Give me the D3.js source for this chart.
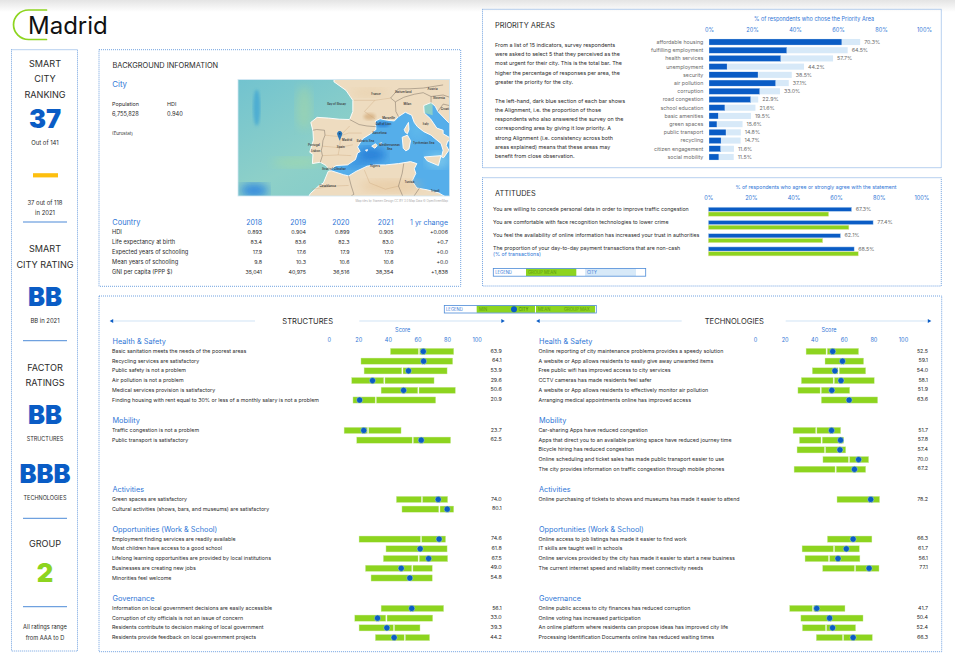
<!DOCTYPE html>
<html>
<head>
<meta charset="utf-8">
<script src="https://cdn.jsdelivr.net/npm/d3@7/dist/d3.min.js"></script>
<style>
html, body { margin: 0; padding: 0; background: #fff; }
svg { display: block; }
text { font-family: Inter, "Liberation Sans", sans-serif; }
</style>
</head>
<body>
<svg id="page" width="955" height="665"></svg>
<script>
// ---- data ----
var priorityAreas = ['affordable housing','fulfilling employment','health services','unemployment','security','air pollution','corruption','road congestion','school education','basic amenities','green spaces','public transport','recycling','citizen engagement','social mobility'];
var priorityTotal = [70.3,64.5,57.7,44.2,38.5,37.1,33.0,22.9,21.6,19.5,15.6,14.8,14.7,11.6,11.5];
var priorityAlign = [61.8,36.2,33.4,8.4,22.8,31.0,23.6,19.4,7.4,4.3,3.7,7.9,5.6,5.4,4.6];
var pctTicks = [0,20,40,60,80,100];

var attitudeLabels = ['You are willing to concede personal data in order to improve traffic congestion','You are comfortable with face recognition technologies to lower crime','You feel the availability of online information has increased your trust in authorities','The proportion of your day-to-day payment transactions that are non-cash'];
var attitudeCity = [67.3,77.4,62.1,68.5];
var attitudeGroup = [56.5,66.0,53.7,70.4];

var sectionNames = ['Health & Safety','Mobility','Activities','Opportunities (Work & School)','Governance'];
var scoreTicks = [0,20,40,60,80,100];

var structLabels = [
	['Basic sanitation meets the needs of the poorest areas','Recycling services are satisfactory','Public safety is not a problem','Air pollution is not a problem','Medical services provision is satisfactory','Finding housing with rent equal to 30% or less of a monthly salary is not a problem'],
	['Traffic congestion is not a problem','Public transport is satisfactory'],
	['Green spaces are satisfactory','Cultural activities (shows, bars, and museums) are satisfactory'],
	['Employment finding services are readily available','Most children have access to a good school','Lifelong learning opportunities are provided by local institutions','Businesses are creating new jobs','Minorities feel welcome'],
	['Information on local government decisions are easily accessible','Corruption of city officials is not an issue of concern','Residents contribute to decision making of local government','Residents provide feedback on local government projects']];
var structMin = [[41.7,21.8,23.9,15.5,35.4,16.4],[10.4,18.9],[45.7,49.5],[20.5,38.7,36.9,24.8,28.6],[35.4,17.6,20.5,31.5]];
var structMean = [[61.0,64.0,49.8,37.6,60.6,31.8],[26.6,56.8],[63.0,74.8],[62.4,61.7,60.8,56.5,54.5],[56.0,39.0,44.1,51.4]];
var structMax = [[84.5,83.8,80.0,71.2,85.6,72.3],[48.9,82.4],[80.4,84.5],[79.0,80.0,80.4,70.0,70.0],[77.7,70.3,61.7,68.2]];
var structCity = [[63.9,64.1,53.9,29.6,50.6,20.9],[23.7,62.5],[74.0,80.1],[74.6,61.8,67.5,49.0,54.8],[56.1,33.0,39.3,44.2]];

var techLabels = [
	['Online reporting of city maintenance problems provides a speedy solution','A website or App allows residents to easily give away unwanted items','Free public wifi has improved access to city services','CCTV cameras has made residents feel safer','A website or App allows residents to effectively monitor air pollution','Arranging medical appointments online has improved access'],
	['Car-sharing Apps have reduced congestion','Apps that direct you to an available parking space have reduced journey time','Bicycle hiring has reduced congestion','Online scheduling and ticket sales has made public transport easier to use','The city provides information on traffic congestion through mobile phones'],
	['Online purchasing of tickets to shows and museums has made it easier to attend'],
	['Online access to job listings has made it easier to find work','IT skills are taught well in schools','Online services provided by the city has made it easier to start a new business','The current internet speed and reliability meet connectivity needs'],
	['Online public access to city finances has reduced corruption','Online voting has increased participation','An online platform where residents can propose ideas has improved city life','Processing Identification Documents online has reduced waiting times']];
var techMin = [[34.5,47.3,38.7,31.3,29.0,44.8],[25.7,30.0,28.4,45.9,26.4],[55.4],[48.9,31.8,33.8,45.7],[23.4,31.0,32.0,41.4]];
var techMean = [[48.4,59.0,56.5,53.2,44.4,63.5],[41.4,45.0,47.3,63.5,54.5],[78.0],[66.4,53.4,50.0,67.6],[39.2,50.2,48.0,59.5]];
var techMax = [[70.0,73.4,74.8,80.6,64.0,82.9],[57.9,59.9,61.3,76.8,74.8],[84.2],[79.0,70.5,70.9,83.8],[60.8,73.0,68.0,79.3]];
var techCity = [[52.5,59.1,54.0,58.1,51.9,63.6],[51.7,57.8,57.4,70.0,67.2],[78.2],[66.3,61.7,56.1,77.1],[41.7,50.4,52.4,66.3]];

var tableYears = ['2018','2019','2020','2021','1 yr change'];
var tableRows = ['HDI','Life expectancy at birth','Expected years of schooling','Mean years of schooling','GNI per capita (PPP $)'];
var tableValues = [
	['0.893','0.904','0.899','0.905','+0.006'],
	['83.4','83.6','82.3','83.0','+0.7'],
	['17.9','17.6','17.9','17.9','+0.0'],
	['9.8','10.3','10.6','10.6','+0.0'],
	['35,041','40,975','36,516','38,354','+1,838']];

var priorityText = ['From a list of 15 indicators, survey respondents','were asked to select 5 that they perceived as the','most urgent for their city. This is the total bar. The','higher the percentage of responses per area, the','greater the priority for the city.'];
var alignmentText = ['The left-hand, dark blue section of each bar shows','the Alignment, i.e. the proportion of those','respondents who also answered the survey on the','corresponding area by giving it low priority. A','strong Alignment (i.e. consistency across both','areas explained) means that these areas may','benefit from close observation.'];

// coastlines as lon/lat, projected below
var europeCoast = [[-4.8,48.4],[-2.5,47.3],[-1.2,46],[-1.2,44.5],[-1.8,43.4],[-3.8,43.45],[-5.8,43.6],[-8,43.7],[-9.2,43],[-8.8,41.8],[-8.7,40.5],[-9.4,38.7],[-8.8,38.4],[-8.9,37],[-7.4,37.2],[-6.3,36.7],[-5.6,36],[-4.4,36.7],[-2.2,36.8],[-0.7,37.6],[-0.3,38.6],[0.2,38.8],[-0.3,39.5],[0.7,40.7],[2.2,41.4],[3.2,42],[3.1,43.2],[4,43.5],[5.4,43.3],[6.7,43.2],[7.5,43.8],[8.8,44.4],[10,44],[10.5,43],[11.1,42.4],[12.3,41.7],[13.7,41.2],[14.3,40.8],[15.6,40],[16,39],[15.7,38],[16.1,37.9],[17.1,39],[16.6,39.7],[16.9,40.4],[18.4,40],[18.5,40.3],[16,41.4],[16,41.9],[14.8,42.2],[13.6,43.5],[12.4,44.3],[12.3,45.3],[13.7,45.7],[14.5,45.2],[15,44.5],[17,43],[19,42],[21,40],[21,50],[-1.5,50],[-1.5,49.5],[-4.8,48.6]];
var africaCoast = [[-5.9,35.8],[-6.8,34],[-7.6,33.6],[-9.3,32.3],[-9.8,31.5],[-10,29],[21,29],[21,30.5],[19,30.5],[15.2,32.4],[13,32.9],[11,33.2],[10.1,34.3],[10.8,35.5],[10.5,36.2],[11,37],[9.8,37.3],[7.5,37],[5,36.8],[3,36.8],[1.5,36.6],[-0.6,35.8],[-2,35.1],[-3,35.3],[-5.3,35.9]];
var islands = [
	[[2.4,39.6],[3.1,39.95],[3.45,39.7],[3,39.3]],
	[[3.85,40],[4.3,40.1],[4.2,39.85]],
	[[1.2,39],[1.6,39.1],[1.5,38.85]],
	[[8.6,42],[9.4,43],[9.5,42],[9.2,41.4],[8.8,41.6]],
	[[8.2,40.9],[9.2,41.2],[9.8,40.4],[9.5,39.2],[8.9,38.9],[8.4,39.3]],
	[[12.4,38],[15.6,38.2],[15.1,36.7],[13,37.4]]];
var borders = [
	[[-8.8,41.9],[-8.1,42],[-6.6,41.9],[-6.5,41.2],[-6.9,40.4],[-7,39.6],[-7.2,39],[-7,38.2],[-7.4,37.2]],
	[[-1.8,43.4],[0,42.7],[1.5,42.5],[3.2,42.4]],
	[[7.5,43.8],[7,44.5],[6.9,45.8],[6,46.3],[7.5,47.5]],
	[[6.9,45.8],[8.5,46.4],[10.5,46.8],[12.2,47],[13.7,46.5],[13.7,45.7]],
	[[7.5,47.5],[9.5,47.5],[12.2,47.6],[16,48]],
	[[13.7,46.5],[16,46.7],[19,46]],
	[[15,44.5],[16,45.5],[19,45]],
	[[-2,35.1],[-1.5,33.5],[-1,32.2],[-3,31],[-6,29]],
	[[8.5,37],[8.2,35.5],[7.5,33.5],[9,30.5],[10,29]],
	[[11.5,33.2],[10.3,31.7],[10,30]]];
var provinceLines = [
	[[-6.5,41.2],[-4,41],[-2,41.5],[0.5,41.5]],
	[[-7,39.6],[-4,39.4],[-1.2,39.8]],
	[[-7,38.2],[-4,38.3],[-1.5,38.2]],
	[[-1.8,42.5],[-3.5,41.2],[-3.7,39.5],[-4,38.3]],
	[[-9,33],[-5,33.5],[-2,33.6]],
	[[1,36],[2,34],[5,33],[7.5,33.5]],
	[[3,46],[1,44.5],[3,43.5]],
	[[-1,46],[3,46],[6,46.3]]];
var mapPlaces = [['France',3.2,46.7],['Switzerland',8.4,46.9],['Austria',14,47.3],['Slovenia',15.2,46.2],['Milan',9.2,45.4],['Italy',12.7,42.7],['Croatia',16.5,44.7],['Portugal',-8.6,39.6],['Spain',-3.5,39.4],['Madrid',-2.3,40.4],['Marseille',5.6,43.5],['Barcelona',3.9,41.4],['Algiers',3,36.5],['Tunisia',9.6,34],['Casablanca',-6,33.4],['Tripoli',14.5,32.5],['Lisbon',-8.3,38.7],['Strait of Gibraltar',-4.8,36],['Balearic Sea',1.2,40.2],['Mediterranean',5.8,39.6],['Sea',5.8,39],['Tyrrhenian Sea',12.3,39.9],['Gulf of Lion',4.6,42.7],['Bay of Biscay',-4.3,45.4]];

// ---- colours ----
var BLUE = '#0a5cc5', GREEN = '#8dd41f', PALE = '#d7e9f8', HEAD = '#2f76d6', RULE = '#4c8ad8', INK = '#2b2b2b', GREY = '#6b6b6b';

var svg = d3.select('#page');

function label(g, x, y, str, size, fill, anchor, weight) {
	return g.append('text')
		.attr('x', x)
		.attr('y', y)
		.attr('dy', '.36em')
		.attr('font-size', size)
		.attr('fill', fill || INK)
		.attr('text-anchor', anchor || 'start')
		.attr('font-weight', weight || 400)
		.text(str);
}

function panel(x0, y0, x1, y1) {
	svg.append('rect')
		.attr('x', x0)
		.attr('y', y0)
		.attr('width', x1 - x0)
		.attr('height', y1 - y0)
		.attr('fill', 'none')
		.attr('stroke', RULE)
		.attr('stroke-width', 0.8)
		.attr('stroke-dasharray', '1,1');
}

function tickRow(scale, ticks, y, fmt) {
	var axis = d3.axisTop(scale)
		.tickValues(ticks)
		.tickSize(0)
		.tickPadding(0)
		.tickFormat(fmt);
	var g = svg.append('g')
		.attr('transform', 'translate(0,' + (y + 2) + ')')
		.call(axis);
	g.select('.domain').remove();
	g.selectAll('text')
		.attr('font-size', 5.6)
		.attr('font-family', 'Inter')
		.attr('fill', HEAD);
}

function drawHeader() {
	var defs = svg.append('defs');
	var grad = defs.append('linearGradient')
		.attr('id', 'topShade')
		.attr('x1', 0).attr('x2', 0).attr('y1', 0).attr('y2', 1);
	grad.append('stop').attr('offset', 0).attr('stop-color', '#e4e4e4');
	grad.append('stop').attr('offset', 1).attr('stop-color', '#ffffff');
	svg.append('rect')
		.attr('width', 955)
		.attr('height', 12)
		.attr('fill', 'url(#topShade)');

	var arc = d3.path();
	arc.moveTo(46.5, 10);
	arc.lineTo(30, 10);
	arc.arcTo(13.5, 10, 13.5, 25, 15);
	arc.arcTo(13.5, 39.5, 30, 39.5, 15);
	arc.lineTo(46.5, 39.5);
	svg.append('path')
		.attr('d', arc.toString())
		.attr('fill', 'none')
		.attr('stroke', GREEN)
		.attr('stroke-width', 1.7)
		.attr('stroke-linecap', 'round');
	label(svg, 28, 25, 'Madrid', 24, '#111');
}

function drawSidebar() {
	panel(11.5, 49.7, 77.5, 651);
	var g = svg.append('g');
	var cx = 45;
	function head(y, str) { label(g, cx, y, str, 9.1, INK, 'middle'); }
	function small(y, str, size) { label(g, cx, y, str, size || 5.9, INK, 'middle'); }
	function big(y, str, fill, size) {
		label(g, cx, y, str, size || 25.5, fill || BLUE, 'middle', 900);
	}
	function rule(y) {
		g.append('rect').attr('x', 23).attr('y', y - 0.5).attr('width', 44).attr('height', 1).attr('fill', RULE);
	}
	head(63.3, 'SMART');
	head(79, 'CITY');
	head(94.7, 'RANKING');
	big(118.7, '37');
	small(143, 'Out of 141');
	g.append('rect').attr('x', 33).attr('y', 173.2).attr('width', 25).attr('height', 4.2).attr('fill', '#fdbf0f');
	small(202.7, '37 out of 118');
	small(212.5, 'in 2021');
	rule(222);
	head(249, 'SMART');
	head(264.5, 'CITY RATING');
	big(296.7, 'BB');
	small(321, 'BB in 2021');
	rule(340.7);
	head(368, 'FACTOR');
	head(383, 'RATINGS');
	big(415, 'BB');
	small(439.3, 'STRUCTURES', 5.5);
	big(474, 'BBB');
	small(498.3, 'TECHNOLOGIES', 5.5);
	rule(518.3);
	head(543.3, 'GROUP');
	big(573.3, '2', GREEN);
	rule(606.7);
	small(626.7, 'All ratings range', 5.7);
	small(637.7, 'from AAA to D', 5.7);
}

function drawMap() {
	var x0 = 238, y0 = 79.5, w = 211.5, h = 116.5;
	var proj = d3.geoMercator()
		.scale(300.8)
		.center([-3.7, 40.4])
		.translate([339.7, 140.7]);
	var defs = svg.append('defs');
	defs.append('clipPath').attr('id', 'mapClip')
		.append('rect').attr('x', x0).attr('y', y0).attr('width', w).attr('height', h);
	defs.append('filter').attr('id', 'wash')
		.append('feGaussianBlur').attr('stdDeviation', 5);
	defs.append('filter').attr('id', 'washFine')
		.append('feGaussianBlur').attr('stdDeviation', 1.5);
	var sea = defs.append('linearGradient').attr('id', 'seaFill')
		.attr('x1', 0).attr('x2', 1).attr('y1', 0).attr('y2', 1);
	sea.append('stop').attr('offset', 0).attr('stop-color', '#72c3cf');
	sea.append('stop').attr('offset', 0.5).attr('stop-color', '#8ed0c8');
	sea.append('stop').attr('offset', 1).attr('stop-color', '#7cc8cc');

	var g = svg.append('g').attr('clip-path', 'url(#mapClip)');
	g.append('rect').attr('x', x0).attr('y', y0).attr('width', w).attr('height', h).attr('fill', 'url(#seaFill)');

	function blob(lon, lat, rx, ry, fill, op, filt) {
		var p = proj([lon, lat]);
		g.append('ellipse')
			.attr('cx', p[0]).attr('cy', p[1])
			.attr('rx', rx).attr('ry', ry)
			.attr('fill', fill)
			.attr('opacity', op)
			.attr('filter', 'url(#' + (filt || 'wash') + ')');
	}
	// atlantic washes
	blob(-19.5, 45, 3.5, 18, '#3aa3d4', 0.7, 'washFine');
	blob(-10.5, 45, 8, 22, '#a9d8a0', 0.5);
	blob(-12, 37.2, 24, 5, '#a6dba3', 0.55);
	blob(-20, 32.8, 14, 7, '#2f86e0', 0.95);
	// mediterranean basin, sits under the land
	var medPts = [[-5.5,36],[-2,38],[1,42],[4,44.5],[9,45],[14,44],[14,46],[19,46],[19,30],[-2,34],[-5.5,35.7]];
	var poly = d3.line().x(function(d) { return proj(d)[0]; }).y(function(d) { return proj(d)[1]; }).curve(d3.curveLinearClosed);
	g.append('path').attr('d', poly(medPts)).attr('fill', '#55aeea');
	blob(2.3, 38.3, 15, 8, '#2379d6', 0.85);
	blob(-0.5, 37, 13, 5, '#3289dd', 0.7);
	blob(4.5, 42.7, 7, 2.5, '#2379d6', 0.8, 'washFine');
	blob(11, 42, 8, 10, '#63bdec', 0.7);
	blob(15, 37.5, 12, 8, '#7fcaec', 0.85);

	var land = g.append('g');
	[europeCoast, africaCoast].concat(islands).forEach(function(ring) {
		land.append('path')
			.attr('d', poly(ring))
			.attr('fill', '#eedcc0')
			.attr('stroke', '#ffffff')
			.attr('stroke-width', 0.9)
			.attr('stroke-linejoin', 'round');
	});
	// a little pigment on land
	blob(2, 43.8, 6, 3.5, '#cfa36e', 0.6, 'washFine');
	blob(6, 33.5, 30, 6, '#e3bd8c', 0.45);
	blob(2, 47, 18, 4, '#e4c79d', 0.45);

	var open = d3.line().x(function(d) { return proj(d)[0]; }).y(function(d) { return proj(d)[1]; });
	provinceLines.forEach(function(line) {
		g.append('path').attr('d', open(line)).attr('fill', 'none').attr('stroke', '#c9a277').attr('stroke-width', 0.35);
	});
	borders.forEach(function(line) {
		g.append('path').attr('d', open(line)).attr('fill', 'none').attr('stroke', '#6d6257').attr('stroke-width', 0.45);
	});
	mapPlaces.forEach(function(d) {
		var p = proj([d[1], d[2]]);
		g.append('text')
			.attr('x', p[0]).attr('y', p[1])
			.attr('font-size', 2.9)
			.attr('font-weight', 600)
			.attr('text-anchor', 'middle')
			.attr('fill', '#3a3a3a')
			.text(d[0]);
	});
	// pin on the city
	var tip = proj([-3.7, 40.4]);
	var pin = d3.path();
	pin.moveTo(tip[0], tip[1]);
	pin.lineTo(tip[0] - 2.4, tip[1] - 6);
	pin.arc(tip[0], tip[1] - 7, 2.6, Math.PI * 0.9, Math.PI * 0.1);
	pin.closePath();
	g.append('path').attr('d', pin.toString()).attr('fill', '#2a76b8');
	g.append('circle').attr('cx', tip[0]).attr('cy', tip[1] - 7).attr('r', 0.8).attr('fill', '#123f6b');

	svg.append('rect').attr('x', x0).attr('y', y0).attr('width', w).attr('height', h)
		.attr('fill', 'none').attr('stroke', '#cfe5f3').attr('stroke-width', 0.8);
	label(svg, 448, 200.5, 'Map tiles by Stamen Design CC BY 3.0 Map Data \u00a9 OpenStreetMap', 2.9, '#aaaaaa', 'end');
}

function drawBackground() {
	panel(99, 49.7, 460.7, 286.3);
	var g = svg.append('g');
	label(g, 112.5, 65, 'BACKGROUND INFORMATION', 7.4, INK);
	label(g, 112.3, 84.3, 'City', 7.8, HEAD);
	label(g, 112, 104, 'Population', 5.4, INK);
	label(g, 167, 104, 'HDI', 5.4, INK);
	label(g, 112, 113.5, '6,755,828', 5.7, INK);
	label(g, 167, 113.5, '0.940', 5.7, INK);
	label(g, 112, 133.7, '(Eurostat)', 4.5, INK);

	var colRight = [262, 306, 349.5, 393.5, 448];
	label(g, 112.3, 222.5, 'Country', 7.4, HEAD);
	tableYears.forEach(function(y, i) {
		label(g, colRight[i], 222.3, y, 7, HEAD, 'end');
	});
	var rowY = d3.scalePoint().domain(tableRows).range([232.3, 272]);
	tableRows.forEach(function(name, r) {
		label(g, 112, rowY(name), name, 5.7, INK);
		tableValues[r].forEach(function(v, c) {
			label(g, colRight[c], rowY(name), v, 5.3, INK, 'end');
		});
	});
}

function drawPriority() {
	panel(482.5, 9.3, 941.3, 167.7);
	label(svg, 495, 25, 'PRIORITY AREAS', 7.4, INK);
	priorityText.forEach(function(line, i) {
		label(svg, 495, 44.7 + i * 9.4, line, 5.4, INK);
	});
	alignmentText.forEach(function(line, i) {
		label(svg, 495, 100.7 + i * 9.27, line, 5.4, INK);
	});

	var x = d3.scaleLinear().domain([0, 100]).range([709, 924]);
	var y = d3.scaleBand().domain(priorityAreas).range([37.9, 161.1]).paddingInner(0.26).paddingOuter(0.13);
	label(svg, 814, 19.3, '% of respondents who chose the Priority Area', 5.5, HEAD, 'middle');
	tickRow(x, pctTicks, 30.3, function(d) { return d + '%'; });

	var g = svg.append('g');
	g.selectAll('.total').data(priorityAreas).join('rect')
		.attr('class', 'total')
		.attr('x', x(0))
		.attr('y', function(d) { return y(d); })
		.attr('width', function(d, i) { return x(priorityTotal[i]) - x(0); })
		.attr('height', y.bandwidth())
		.attr('fill', PALE);
	g.selectAll('.align').data(priorityAreas).join('rect')
		.attr('class', 'align')
		.attr('x', x(0))
		.attr('y', function(d) { return y(d); })
		.attr('width', function(d, i) { return x(priorityAlign[i]) - x(0); })
		.attr('height', y.bandwidth())
		.attr('fill', BLUE)
		.attr('stroke', '#ffffff')
		.attr('stroke-width', 0.3);
	priorityAreas.forEach(function(d, i) {
		var cy = y(d) + y.bandwidth() / 2;
		label(g, 703.3, cy, d, 5.3, GREY, 'end');
		label(g, x(priorityTotal[i]) + 4, cy, priorityTotal[i].toFixed(1) + '%', 5.3, GREY);
	});
}

function drawAttitudes() {
	panel(482.5, 177.7, 941.3, 286);
	label(svg, 495, 193, 'ATTITUDES', 7.4, INK);
	var x = d3.scaleLinear().domain([0, 100]).range([708.3, 921.3]);
	label(svg, 816, 187, '% of respondents who agree or strongly agree with the statement', 5.2, HEAD, 'middle');
	tickRow(x, pctTicks, 197.7, function(d) { return d + '%'; });

	var rowY = d3.scalePoint().domain(attitudeLabels).range([209.3, 249]);
	var g = svg.append('g');
	g.selectAll('.city').data(attitudeLabels).join('rect')
		.attr('class', 'city')
		.attr('x', x(0))
		.attr('y', function(d) { return rowY(d) - 2.1; })
		.attr('width', function(d, i) { return x(attitudeCity[i]) - x(0); })
		.attr('height', 4.2)
		.attr('fill', BLUE)
		.attr('stroke', '#c9ddf2')
		.attr('stroke-width', 0.5);
	g.selectAll('.mean').data(attitudeLabels).join('rect')
		.attr('class', 'mean')
		.attr('x', x(0))
		.attr('y', function(d) { return rowY(d) + 2.7; })
		.attr('width', function(d, i) { return x(attitudeGroup[i]) - x(0); })
		.attr('height', 4.2)
		.attr('fill', GREEN)
		.attr('stroke', '#e9dfa8')
		.attr('stroke-width', 0.5);
	attitudeLabels.forEach(function(d, i) {
		label(g, 493, rowY(d) - (i == 3 ? 1.3 : 0.3), d, 5.3, INK);
		label(g, x(attitudeCity[i]) + 4, rowY(d) - 0.3, attitudeCity[i].toFixed(1) + '%', 5.3, GREY);
	});
	label(g, 493, 254, '(% of transactions)', 5.3, HEAD);

	// legend strip
	var leg = svg.append('g');
	leg.append('rect').attr('x', 526).attr('y', 268.6).attr('width', 50.3).attr('height', 7.4).attr('fill', GREEN);
	leg.append('rect').attr('x', 585).attr('y', 268.6).attr('width', 51).attr('height', 7.4).attr('fill', PALE);
	leg.append('rect').attr('x', 493.3).attr('y', 268.4).attr('width', 152.4).attr('height', 7.8)
		.attr('fill', 'none').attr('stroke', RULE).attr('stroke-width', 0.8);
	label(leg, 495.2, 272.3, 'LEGEND', 4.2, HEAD);
	label(leg, 528, 272.3, 'GROUP MEAN', 4.2, '#5c9a10');
	label(leg, 587, 272.3, 'CITY', 4.2, HEAD);
}

function factorColumn(title, cfg, labels, mins, means, maxes, cities) {
	var sectionY = [341.3, 420.3, 489.3, 529, 598.3];
	var rowStep = 9.72;
	var x = d3.scaleLinear().domain([0, 100]).range(cfg.range);

	label(svg, cfg.titleX, 321, title, 7.6, INK, 'middle');
	cfg.rules.forEach(function(r) {
		svg.append('line')
			.attr('x1', r[0]).attr('x2', r[1]).attr('y1', 321).attr('y2', 321)
			.attr('stroke', '#bcd7f1').attr('stroke-width', 0.7);
		svg.append('path')
			.attr('d', d3.symbol().type(d3.symbolTriangle).size(7)())
			.attr('transform', 'translate(' + r[2] + ',321) rotate(' + r[3] + ')')
			.attr('fill', BLUE);
	});
	label(svg, (cfg.range[0] + cfg.range[1]) / 2, 330.3, 'Score', 5.5, HEAD, 'middle');
	tickRow(x, scoreTicks, 340, function(d) { return d; });

	var g = svg.append('g');
	sectionNames.forEach(function(name, s) {
		label(g, cfg.labelX + 0.5, sectionY[s], name, 7.3, HEAD);
		labels[s].forEach(function(text, i) {
			var y = sectionY[s] + rowStep * (i + 1);
			label(g, cfg.labelX, y, text, 5.3, INK);
			g.append('rect')
				.attr('x', x(mins[s][i]))
				.attr('y', y - 2.7)
				.attr('width', x(means[s][i]) - x(mins[s][i]) - 0.6)
				.attr('height', 6.2)
				.attr('fill', GREEN)
				.attr('stroke', '#d4eeb0')
				.attr('stroke-width', 0.4);
			g.append('rect')
				.attr('x', x(means[s][i]) + 0.6)
				.attr('y', y - 2.7)
				.attr('width', x(maxes[s][i]) - x(means[s][i]) - 0.6)
				.attr('height', 6.2)
				.attr('fill', GREEN)
				.attr('stroke', '#d4eeb0')
				.attr('stroke-width', 0.4);
			g.append('circle')
				.attr('cx', x(cities[s][i]))
				.attr('cy', y + 0.4)
				.attr('r', 3.1)
				.attr('fill', BLUE)
				.attr('stroke', '#dff0c8')
				.attr('stroke-width', 0.4);
			label(g, cfg.valueX, y - 0.4, cities[s][i].toFixed(1), 5.3, INK, 'end');
		});
	});
}

function drawFactors() {
	panel(99, 296, 941.7, 651.7);
	factorColumn('STRUCTURES', {
		range: [328.7, 476.7], titleX: 307.7, labelX: 112, valueX: 501.7,
		rules: [[112, 255, 112, -90], [359.3, 502.5, 502.5, 90]]
	}, structLabels, structMin, structMean, structMax, structCity);
	factorColumn('TECHNOLOGIES', {
		range: [755, 903], titleX: 734.3, labelX: 538.5, valueX: 928,
		rules: [[538.5, 681.7, 538.5, -90], [785.7, 929, 929, 90]]
	}, techLabels, techMin, techMean, techMax, techCity);

	// legend strip
	var leg = svg.append('g');
	leg.append('rect').attr('x', 476.7).attr('y', 305.6).attr('width', 58.3).attr('height', 7.2).attr('fill', GREEN);
	leg.append('rect').attr('x', 536).attr('y', 305.6).attr('width', 59).attr('height', 7.2).attr('fill', GREEN);
	leg.append('rect').attr('x', 444.3).attr('y', 305.4).attr('width', 152).attr('height', 7.6)
		.attr('fill', 'none').attr('stroke', RULE).attr('stroke-width', 0.8);
	leg.append('circle').attr('cx', 514).attr('cy', 309.2).attr('r', 3).attr('fill', BLUE);
	label(leg, 446, 309.2, 'LEGEND', 4.2, HEAD);
	label(leg, 479, 309.2, 'MIN', 4.2, '#5c9a10');
	label(leg, 518.5, 309.2, 'CITY', 4.2, '#3d7d10');
	label(leg, 538, 309.2, 'MEAN', 4.2, '#5c9a10');
	label(leg, 564, 309.2, 'GROUP MAX', 4.2, '#5c9a10');
}

drawHeader();
drawSidebar();
drawBackground();
drawMap();
drawPriority();
drawAttitudes();
drawFactors();
</script>
</body>
</html>
